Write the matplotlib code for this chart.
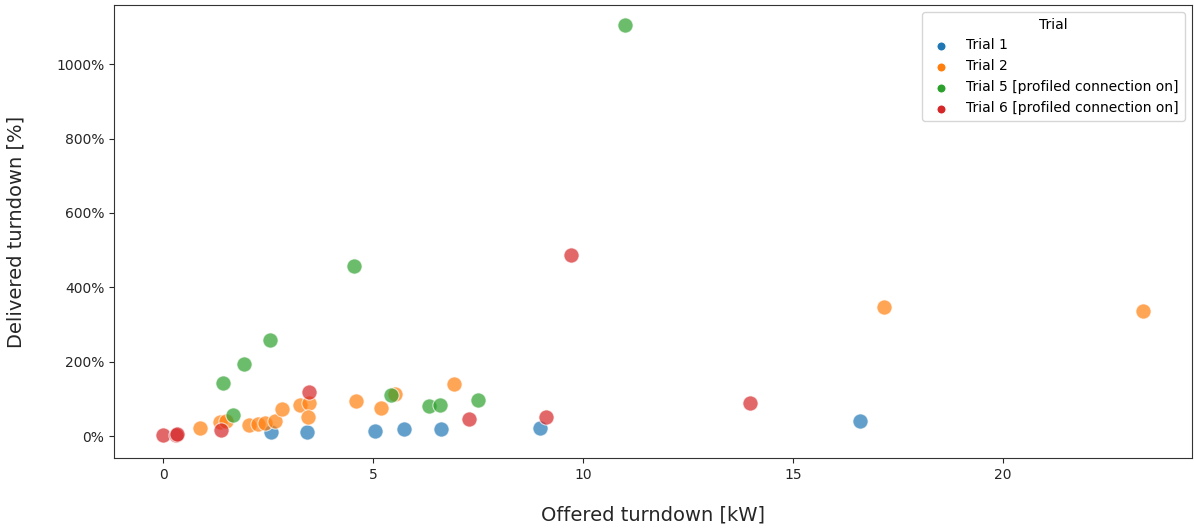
import matplotlib
matplotlib.use("Agg")
import matplotlib.pyplot as plt
from matplotlib.ticker import PercentFormatter

trial_names = ["Trial 1", "Trial 2", "Trial 5 [profiled connection on]", "Trial 6 [profiled connection on]"]
colors = ["#1f77b4", "#ff7f0e", "#2ca02c", "#d62728"]

t1_x = [2.57, 3.44, 5.04, 5.73, 6.62, 8.99, 16.6]
t1_y = [0.12, 0.10, 0.13, 0.18, 0.20, 0.22, 0.42]

t2_x = [0.89, 1.35, 1.51, 2.05, 2.27, 2.42, 2.66, 2.84, 3.27, 3.47, 3.45, 4.60, 5.19, 5.53, 6.92, 17.18, 23.33]
t2_y = [0.23, 0.37, 0.40, 0.31, 0.34, 0.36, 0.40, 0.73, 0.85, 0.88, 0.51, 0.94, 0.76, 1.13, 1.41, 3.47, 3.36]

t5_x = [1.43, 1.67, 1.93, 2.54, 4.54, 5.42, 6.34, 6.60, 7.51, 11.0]
t5_y = [1.44, 0.56, 1.95, 2.58, 4.57, 1.12, 0.81, 0.85, 0.96, 11.05]

t6_x = [0.0, 0.30, 0.33, 1.39, 3.48, 7.28, 9.11, 9.71, 13.97]
t6_y = [0.03, 0.04, 0.05, 0.16, 1.19, 0.47, 0.52, 4.88, 0.90]

series = [(t1_x, t1_y), (t2_x, t2_y), (t5_x, t5_y), (t6_x, t6_y)]

fig = plt.figure(figsize=(11.94, 5.29), dpi=100)
ax = fig.add_axes([0.0955, 0.134, 0.9025, 0.8565])

for name, c, (xs, ys) in zip(trial_names, colors, series):
    ax.scatter(xs, ys, s=120, color=c, alpha=0.7, edgecolors="white", linewidths=0.8, label=name)

ax.set_ylim(-0.59, 11.59)
ax.yaxis.set_major_formatter(PercentFormatter(1.0, decimals=0))
ax.set_yticks([0, 2, 4, 6, 8, 10])
ax.set_xticks([0, 5, 10, 15, 20])
ax.tick_params(labelsize=10, colors="#262626")
for sp in ax.spines.values():
    sp.set_color("#333333")
ax.set_xlabel("Offered turndown [kW]", fontsize=14, labelpad=17, color="#262626")
ax.set_ylabel("Delivered turndown [%]", fontsize=14, labelpad=22, color="#262626")

leg = ax.legend(title="Trial", loc="upper right", fontsize=10, title_fontsize=10, markerscale=0.6)
for h in leg.legend_handles:
    h.set_alpha(1)

fig.savefig("out.png", dpi=100)
